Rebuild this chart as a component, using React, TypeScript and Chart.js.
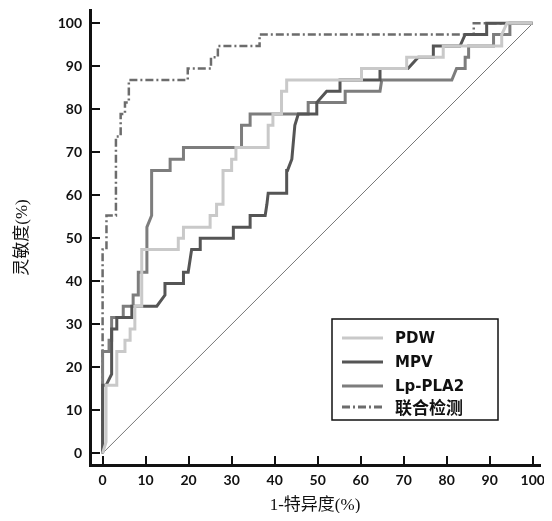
import React, { useEffect, useRef } from "react";
import { Chart, registerables } from "chart.js";

Chart.register(...registerables);

// ---- data ----
const seriesNames = ["PDW", "MPV", "Lp-PLA2", "联合检测"];

const pdwX = [0, 0.8, 0.8, 3.3, 3.3, 5.2, 5.2, 6.4, 6.4, 7.5, 7.5, 9.1, 9.1, 17.6, 17.6, 18.8, 18.8, 25, 25, 26.5, 26.5, 28, 28, 30, 30, 31, 31, 38.5, 38.5, 39.6, 39.6, 41.6, 41.6, 42.8, 42.8, 60.2, 60.2, 70.7, 70.7, 79.2, 79.2, 92.8, 92.8, 94, 100];
const pdwY = [0, 2.6, 15.8, 15.8, 23.7, 23.7, 26.3, 26.3, 28.9, 28.9, 34.2, 34.2, 47.4, 47.4, 50, 50, 52.6, 52.6, 55.3, 55.3, 57.9, 57.9, 65.8, 65.8, 68.4, 68.4, 71.1, 71.1, 76.3, 76.3, 78.9, 78.9, 84.2, 84.2, 86.8, 86.8, 89.5, 89.5, 92.1, 92.1, 94.7, 94.7, 97.4, 100, 100];

const mpvX = [0, 0, 0.8, 2.1, 2.1, 3.3, 3.3, 6.8, 6.8, 12.6, 14.5, 14.5, 18.8, 18.8, 19.9, 20.7, 22.7, 22.7, 30.4, 30.4, 34.3, 34.3, 37.8, 38.2, 38.5, 42.8, 42.8, 43, 44, 44.7, 45.5, 49.8, 49.8, 52.1, 55.2, 55.2, 64.5, 64.5, 71, 73.4, 76.9, 76.9, 83.1, 84.3, 89.3, 89.3, 100];
const mpvY = [0, 15.8, 15.8, 18.4, 28.9, 28.9, 31.6, 31.6, 34.2, 34.2, 36.8, 39.5, 39.5, 42.1, 42.1, 47.4, 47.4, 50, 50, 52.6, 52.6, 55.3, 55.3, 57.9, 60.5, 60.5, 65.8, 65.8, 68.4, 76.3, 78.9, 78.9, 81.6, 84.2, 84.2, 86.8, 86.8, 89.5, 89.5, 92.1, 92.1, 94.7, 94.7, 97.4, 97.4, 100, 100];

const lpX = [0, 0, 1.5, 1.5, 2.1, 2.1, 4.8, 4.8, 7.1, 7.1, 8.3, 8.3, 10.3, 10.3, 11.4, 11.4, 15.7, 15.7, 18.8, 18.8, 32.3, 32.3, 34.3, 34.3, 47.8, 47.8, 56.4, 56.4, 64.5, 64.9, 81.2, 82.3, 84.3, 84.3, 85.1, 85.1, 90.9, 90.9, 94.7, 94.7, 100];
const lpY = [0, 23.7, 23.7, 26.3, 26.3, 31.6, 31.6, 34.2, 34.2, 36.8, 36.8, 42.1, 42.1, 52.6, 55.3, 65.8, 65.8, 68.4, 68.4, 71.1, 71.1, 76.3, 76.3, 78.9, 78.9, 81.6, 81.6, 84.2, 84.2, 86.8, 86.8, 89.5, 89.5, 92.1, 92.1, 94.7, 94.7, 97.4, 97.4, 100, 100];

const combX = [0, 0, 0.9, 0.9, 3.1, 3.1, 4.2, 4.2, 5.2, 5.2, 6.1, 6.1, 19.8, 19.8, 25.2, 25.2, 26.8, 26.8, 36.5, 36.5, 86.3, 86.3, 100];
const combY = [0, 47.4, 47.4, 55.3, 55.3, 73.7, 73.7, 78.9, 78.9, 81.6, 81.6, 86.8, 86.8, 89.5, 89.5, 92.1, 92.1, 94.7, 94.7, 97.4, 97.4, 100, 100];

const refX = [0, 100];
const refY = [0, 100];

const tickValues = [0, 10, 20, 30, 40, 50, 60, 70, 80, 90, 100];

// ---- styles ----
const colors = ["#c9c9c9", "#555555", "#7d7d7d", "#6c6c6c"];
const dashes: number[][] = [[], [], [], [8, 3, 2, 3]];

const pts = (xs: number[], ys: number[]) => xs.map((x, i) => ({ x, y: ys[i] }));

const inwardTicks = {
  id: "inwardTicks",
  afterDraw(chart: any) {
    const { ctx, chartArea, scales } = chart;
    ctx.save();
    ctx.strokeStyle = "#111";
    ctx.lineWidth = 2;
    scales.x.ticks.forEach((t: any) => {
      const px = Math.round(scales.x.getPixelForValue(t.value));
      ctx.beginPath();
      ctx.moveTo(px, chartArea.bottom);
      ctx.lineTo(px, chartArea.bottom - 9);
      ctx.stroke();
    });
    scales.y.ticks.forEach((t: any) => {
      const py = Math.round(scales.y.getPixelForValue(t.value));
      ctx.beginPath();
      ctx.moveTo(chartArea.left, py);
      ctx.lineTo(chartArea.left + 10, py);
      ctx.stroke();
    });
    ctx.restore();
  },
};

const boxLegend = {
  id: "boxLegend",
  afterDraw(chart: any) {
    const { ctx, chartArea } = chart;
    const left = chartArea.left + 242;
    const top = chartArea.top + 309;
    const w = 166;
    const h = 101;
    const rows = [19, 43, 67, 88];
    ctx.save();
    ctx.fillStyle = "#fff";
    ctx.fillRect(left, top, w, h);
    ctx.strokeStyle = "#111";
    ctx.lineWidth = 1.5;
    ctx.strokeRect(left, top, w, h);
    seriesNames.forEach((name, i) => {
      const yy = top + rows[i];
      ctx.beginPath();
      ctx.strokeStyle = colors[i];
      ctx.lineWidth = 3;
      ctx.setLineDash(dashes[i]);
      ctx.moveTo(left + 10, yy);
      ctx.lineTo(left + 51, yy);
      ctx.stroke();
      ctx.setLineDash([]);
      ctx.fillStyle = "#111";
      ctx.textBaseline = "middle";
      ctx.textAlign = "left";
      ctx.font = i === 3 ? "bold 17px 'Noto Sans CJK SC'" : "bold 15px 'DejaVu Sans', 'Noto Sans CJK SC'";
      ctx.fillText(name, left + 63, yy + 1);
    });
    ctx.restore();
  },
};

export default function App() {
  const ref = useRef<HTMLCanvasElement | null>(null);
  useEffect(() => {
    if (!ref.current) return;
    const series = [pts(pdwX, pdwY), pts(mpvX, mpvY), pts(lpX, lpY), pts(combX, combY)];
    const datasets: any[] = series.map((data, i) => ({
      label: seriesNames[i],
      data,
      borderColor: colors[i],
      borderWidth: i === 3 ? 2.5 : 3,
      borderDash: dashes[i],
      pointRadius: 0,
      showLine: true,
      fill: false,
      tension: 0,
      borderCapStyle: "butt",
      borderJoinStyle: "miter",
    }));
    datasets.push({
      label: "ref",
      data: pts(refX, refY),
      borderColor: "#777",
      borderWidth: 1,
      pointRadius: 0,
      showLine: true,
      fill: false,
    });
    const chart = new Chart(ref.current, {
      type: "scatter",
      data: { datasets },
      options: {
        animation: false,
        responsive: true,
        maintainAspectRatio: false,
        events: [],
        layout: { padding: { top: 2, right: 4, left: 0, bottom: 0 } },
        plugins: { legend: { display: false }, tooltip: { enabled: false } },
        scales: {
          x: {
            type: "linear",
            min: -2.93,
            max: 101.7,
            afterFit: (s: any) => {
              s.height = 48;
              s.paddingLeft = 0;
              s.paddingRight = 0;
            },
            afterBuildTicks: (s: any) => {
              s.ticks = tickValues.map((v) => ({ value: v }));
            },
            grid: { display: false, drawTicks: false },
            border: { display: true, color: "#111", width: 3 },
            ticks: {
              padding: 7,
              color: "#111",
              font: { family: "Lato", weight: "bold", size: 14 },
              maxRotation: 0,
              autoSkip: false,
            },
            title: {
              display: true,
              text: "1-特异度(%)",
              color: "#111",
              font: { family: "'Liberation Serif', 'Noto Sans CJK SC'", size: 17, lineHeight: 1 },
              padding: { top: 0, bottom: -1 },
            },
          },
          y: {
            type: "linear",
            min: -2.72,
            max: 103.1,
            afterFit: (s: any) => {
              s.width = 82;
              s.paddingTop = 0;
              s.paddingBottom = 0;
            },
            afterBuildTicks: (s: any) => {
              s.ticks = tickValues.map((v) => ({ value: v }));
            },
            grid: { display: false, drawTicks: false },
            border: { display: true, color: "#111", width: 3 },
            ticks: {
              padding: 8,
              color: "#111",
              font: { family: "Lato", weight: "bold", size: 14 },
              autoSkip: false,
            },
            title: {
              display: true,
              text: "灵敏度(%)",
              color: "#111",
              font: { family: "'Liberation Serif', 'Noto Sans CJK SC'", size: 17, lineHeight: 1 },
              padding: { top: 6, bottom: 0 },
            },
          },
        },
      },
      plugins: [inwardTicks, boxLegend],
    });
    return () => chart.destroy();
  }, []);
  return (
    <div style={{ width: 536, height: 505, position: "relative" }}>
      <canvas ref={ref} />
    </div>
  );
}
